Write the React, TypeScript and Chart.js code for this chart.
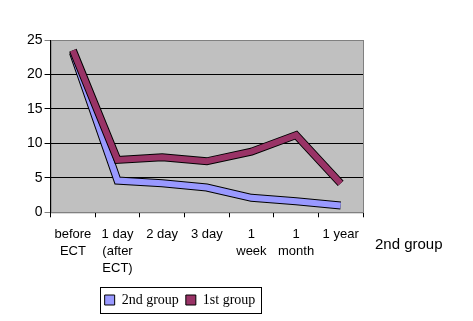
import React, { useEffect, useRef } from "react";
import { Chart, registerables } from "chart.js";

Chart.register(...registerables);

const categories: (string | string[])[] = [
  ["before", "ECT"],
  ["1 day", "(after", "ECT)"],
  "2 day",
  "3 day",
  ["1", "week"],
  ["1", "month"],
  "1 year",
];
const secondGroup = [23.2, 4.6, 4.2, 3.6, 2.1, 1.6, 1.0];
const firstGroup = [23.5, 7.6, 8.0, 7.4, 8.8, 11.2, 4.2];
const yTicks = [0, 5, 10, 15, 20, 25];
const depthLabel = "2nd group";

const BLUE = "#9999ff";
const MAROON = "#993366";

export default function App() {
  const ref = useRef<HTMLCanvasElement | null>(null);
  useEffect(() => {
    document.body.style.margin = "0";
    const ctx = ref.current!.getContext("2d")!;
    const LEG_CENTER = 180;
    const bgPlugin = {
      id: "bg",
      afterLayout(chart: any) {
        const lg = chart.legend;
        if (lg) {
          const shift = (lg.left + lg.right) / 2 - LEG_CENTER;
          lg.left -= shift;
          lg.right -= shift;
          (lg.legendHitBoxes || []).forEach((h: any) => (h.left -= shift));
        }
      },
      beforeDraw(chart: any) {
        const { ctx, chartArea: a } = chart;
        ctx.save();
        ctx.fillStyle = "#c0c0c0";
        ctx.fillRect(a.left, a.top, a.right - a.left, a.bottom - a.top);
        ctx.strokeStyle = "#808080";
        ctx.lineWidth = 1;
        ctx.strokeRect(a.left + 0.5, a.top + 0.5, a.right - a.left, a.bottom - a.top);
        ctx.restore();
      },
      afterDraw(chart: any) {
        const { ctx } = chart;
        ctx.save();
        ctx.fillStyle = "#000";
        ctx.font = "15px 'Liberation Sans', Arial, sans-serif";
        ctx.textBaseline = "middle";
        ctx.fillText(depthLabel, 375, 245);
        const boxes = chart.legend?.legendHitBoxes || [];
        if (boxes.length) {
          let l = Infinity, t = Infinity, r = -Infinity, b = -Infinity;
          boxes.forEach((h: any) => {
            l = Math.min(l, h.left);
            t = Math.min(t, h.top);
            r = Math.max(r, h.left + h.width);
            b = Math.max(b, h.top + h.height);
          });
          ctx.strokeStyle = "#000";
          ctx.lineWidth = 1;
          ctx.strokeRect(Math.round(l - 5) + 0.5, Math.round(t - 6) + 0.5, Math.round(r - l + 10), Math.round(b - t + 12));
        }
        ctx.restore();
      },
    };
    const chart = new Chart(ctx, {
      type: "line",
      data: {
        labels: categories,
        datasets: [
          { label: "outline2", data: secondGroup, borderColor: "#000", borderWidth: 8, pointRadius: 0, tension: 0, borderJoinStyle: "miter", order: 4 },
          { label: "2nd group", data: secondGroup, borderColor: BLUE, backgroundColor: BLUE, borderWidth: 6, pointRadius: 0, tension: 0, borderJoinStyle: "miter", order: 3 },
          { label: "outline1", data: firstGroup, borderColor: "#000", borderWidth: 8, pointRadius: 0, tension: 0, borderJoinStyle: "miter", order: 2 },
          { label: "1st group", data: firstGroup, borderColor: MAROON, backgroundColor: MAROON, borderWidth: 6, pointRadius: 0, tension: 0, borderJoinStyle: "miter", order: 1 },
        ] as any,
      },
      options: {
        animation: false,
        responsive: false,
        layout: { padding: { left: 25, right: 110, top: 40, bottom: 4 } },
        plugins: {
          tooltip: { enabled: false },
          legend: {
            position: "bottom",
            labels: {
              color: "#000",
              font: { family: "'Liberation Serif', 'Times New Roman', serif", size: 14 },
              boxWidth: 10,
              boxHeight: 10,
              padding: 7,
              generateLabels(chart: any) {
                return chart.data.datasets
                  .map((d: any, i: number) => ({
                    text: d.label,
                    fillStyle: d.backgroundColor,
                    strokeStyle: "#000",
                    lineWidth: 1,
                    datasetIndex: i,
                    fontColor: "#000",
                  }))
                  .filter((it: any) => !String(it.text).startsWith("outline"));
              },
            },
          },
        },
        scales: {
          x: {
            offset: true,
            grid: { display: true, drawOnChartArea: false, color: "#000", tickLength: 5, offset: true },
            border: { display: true, color: "#808080" },
            ticks: {
              color: "#000",
              font: { family: "'Liberation Sans', Arial, sans-serif", size: 13, lineHeight: 1.3 },
              maxRotation: 0,
              autoSkip: false,
              padding: 9,
            },
          },
          y: {
            min: 0,
            max: 25,
            afterBuildTicks(axis: any) {
              axis.ticks = yTicks.map((v) => ({ value: v }));
            },
            grid: {
              color: (c: any) => (c.tick && (c.tick.value === 25 || c.tick.value === 0) ? "#808080" : "#000"),
              tickLength: 6,
            },
            border: { display: true, color: "#000" },
            ticks: {
              color: "#000",
              font: { family: "'Liberation Sans', Arial, sans-serif", size: 14 },
              padding: 2,
            },
          },
        },
      },
      plugins: [bgPlugin],
    } as any);
    return () => chart.destroy();
  }, []);
  return (
    <div style={{ width: 473, height: 321 }}>
      <canvas ref={ref} width={473} height={321} style={{ display: "block" }} />
    </div>
  );
}
